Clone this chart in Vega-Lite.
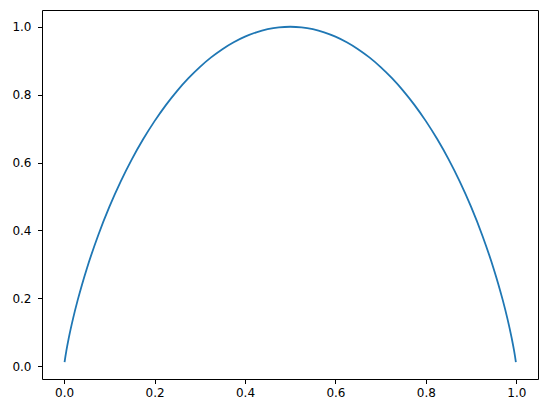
{
  "$schema": "https://vega.github.io/schema/vega-lite/v6.json",
  "autosize": {"type": "none"},
  "padding": {"left": 42, "top": 10, "right": 9, "bottom": 34},
  "width": 496,
  "height": 369,
  "background": "white",
  "config": {
    "view": {"stroke": "black", "strokeWidth": 1},
    "axis": {
      "grid": false,
      "domain": false,
      "tickColor": "black",
      "tickSize": 4.5,
      "tickWidth": 1,
      "labelFont": "DejaVu Sans",
      "labelFontSize": 12,
      "labelColor": "black",
      "title": null
    },
    "axisX": {"labelPadding": 4},
    "axisY": {"labelPadding": 6.5}
  },
  "data": {
    "values": [
      {"p": 0.001, "h": 0.01141},
      {"p": 0.002, "h": 0.02081},
      {"p": 0.005, "h": 0.04541},
      {"p": 0.01, "h": 0.08079},
      {"p": 0.02, "h": 0.14144},
      {"p": 0.03, "h": 0.19439},
      {"p": 0.04, "h": 0.24229},
      {"p": 0.05, "h": 0.2864},
      {"p": 0.075, "h": 0.38431},
      {"p": 0.1, "h": 0.469},
      {"p": 0.125, "h": 0.54356},
      {"p": 0.15, "h": 0.60984},
      {"p": 0.175, "h": 0.66902},
      {"p": 0.2, "h": 0.72193},
      {"p": 0.225, "h": 0.76919},
      {"p": 0.25, "h": 0.81128},
      {"p": 0.275, "h": 0.84855},
      {"p": 0.3, "h": 0.88129},
      {"p": 0.325, "h": 0.90974},
      {"p": 0.35, "h": 0.93407},
      {"p": 0.375, "h": 0.95443},
      {"p": 0.4, "h": 0.97095},
      {"p": 0.425, "h": 0.98371},
      {"p": 0.45, "h": 0.99277},
      {"p": 0.475, "h": 0.9982},
      {"p": 0.5, "h": 1.0},
      {"p": 0.525, "h": 0.9982},
      {"p": 0.55, "h": 0.99277},
      {"p": 0.575, "h": 0.98371},
      {"p": 0.6, "h": 0.97095},
      {"p": 0.625, "h": 0.95443},
      {"p": 0.65, "h": 0.93407},
      {"p": 0.675, "h": 0.90974},
      {"p": 0.7, "h": 0.88129},
      {"p": 0.725, "h": 0.84855},
      {"p": 0.75, "h": 0.81128},
      {"p": 0.775, "h": 0.76919},
      {"p": 0.8, "h": 0.72193},
      {"p": 0.825, "h": 0.66902},
      {"p": 0.85, "h": 0.60984},
      {"p": 0.875, "h": 0.54356},
      {"p": 0.9, "h": 0.469},
      {"p": 0.925, "h": 0.38431},
      {"p": 0.95, "h": 0.2864},
      {"p": 0.96, "h": 0.24229},
      {"p": 0.97, "h": 0.19439},
      {"p": 0.98, "h": 0.14144},
      {"p": 0.99, "h": 0.08079},
      {"p": 0.995, "h": 0.04541},
      {"p": 0.998, "h": 0.02081},
      {"p": 0.999, "h": 0.01141}
    ]
  },
  "mark": {"type": "line", "color": "#1f77b4", "strokeWidth": 1.8, "interpolate": "monotone", "clip": true},
  "encoding": {
    "x": {
      "field": "p",
      "type": "quantitative",
      "scale": {"domain": [-0.0489, 1.0479], "nice": false, "zero": false},
      "axis": {"values": [0, 0.2, 0.4, 0.6, 0.8, 1.0], "format": ".1f"}
    },
    "y": {
      "field": "h",
      "type": "quantitative",
      "scale": {"domain": [-0.038, 1.0494], "nice": false, "zero": false},
      "axis": {"values": [0, 0.2, 0.4, 0.6, 0.8, 1.0], "format": ".1f"}
    }
  }
}
